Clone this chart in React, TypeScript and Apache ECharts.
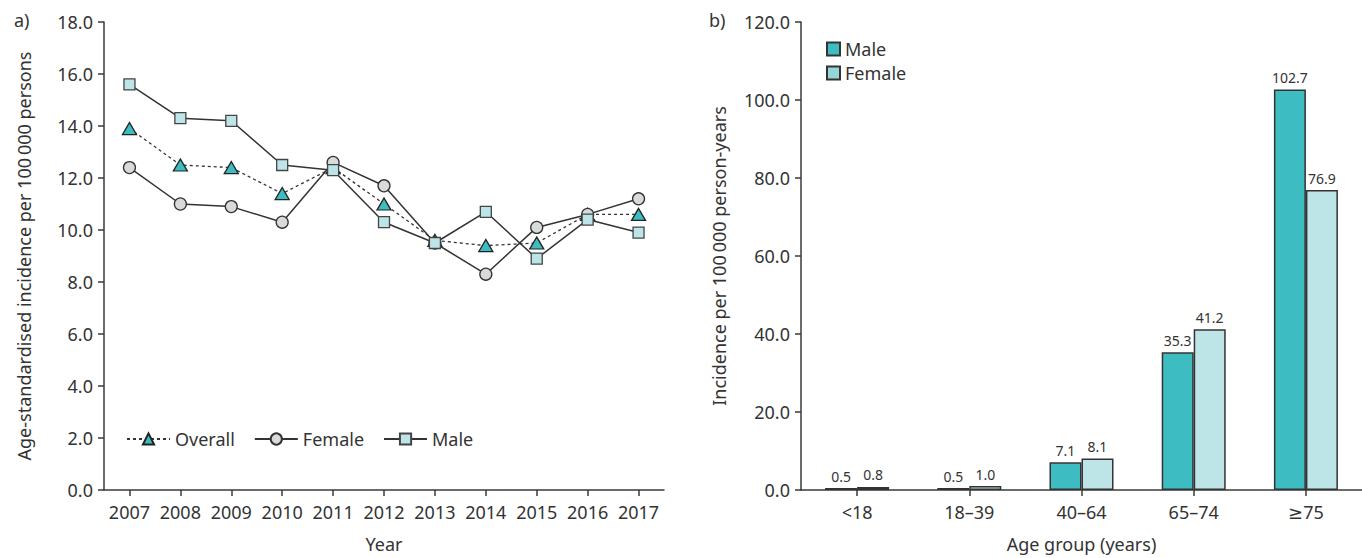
import React, { useEffect, useRef } from "react";
import * as echarts from "echarts";

const years = ["2007", "2008", "2009", "2010", "2011", "2012", "2013", "2014", "2015", "2016", "2017"];
const overallValues = [13.9, 12.5, 12.4, 11.4, 12.4, 11.0, 9.6, 9.4, 9.5, 10.6, 10.6];
const femaleValues = [12.4, 11.0, 10.9, 10.3, 12.6, 11.7, 9.5, 8.3, 10.1, 10.6, 11.2];
const maleValues = [15.6, 14.3, 14.2, 12.5, 12.3, 10.3, 9.5, 10.7, 8.9, 10.4, 9.9];

const ageGroups = ["<18", "18\u201339", "40\u201364", "65\u201374", "\u226575"];
const maleBarValues = [0.5, 0.5, 7.1, 35.3, 102.7];
const femaleBarValues = [0.8, 1.0, 8.1, 41.2, 76.9];

const FONT = "'Noto Sans', 'DejaVu Sans', sans-serif";
const TXT = "#333333";
const AX = "#3a3a3a";
const TEAL = "#3dbcc1";
const LIGHT = "#bde5e7";
const GREY = "#d9dadc";

export default function App() {
  const ref = useRef<HTMLDivElement>(null);
  useEffect(() => {
    if (!ref.current) return;
    const chart = echarts.init(ref.current, null, { renderer: "svg" });
    const axisLine = { show: true, lineStyle: { color: AX, width: 1.5 } };
    const axisTick = { show: true, length: 6, lineStyle: { color: AX, width: 1.5 } };
    const axisLabel = { color: TXT, fontSize: 18, fontFamily: FONT };
    const nameStyle = { color: TXT, fontSize: 18, fontFamily: FONT };
    const option: any = {
      animation: false,
      textStyle: { fontFamily: FONT },
      grid: [
        { left: 104, top: 22, width: 560, height: 473 },
        { left: 801, top: 22, width: 566, height: 473 },
      ],
      xAxis: [
        {
          type: "category",
          gridIndex: 0,
          data: years,
          boundaryGap: true,
          axisLine,
          axisTick: { ...axisTick, alignWithLabel: true },
          axisLabel: { ...axisLabel, margin: 13, interval: 0 },
          name: "Year",
          nameLocation: "middle",
          nameGap: 45,
          nameTextStyle: nameStyle,
        },
        {
          type: "category",
          gridIndex: 1,
          data: ageGroups,
          boundaryGap: true,
          axisLine,
          axisTick: { ...axisTick, alignWithLabel: true },
          axisLabel: { ...axisLabel, margin: 13, interval: 0 },
          name: "Age group (years)",
          nameLocation: "middle",
          nameGap: 45,
          nameTextStyle: nameStyle,
        },
      ],
      yAxis: [
        {
          type: "value",
          gridIndex: 0,
          min: 0,
          max: 18,
          interval: 2,
          splitLine: { show: false },
          axisLine,
          axisTick,
          axisLabel: { ...axisLabel, margin: 11, formatter: (v: number) => v.toFixed(1) },
          name: "Age-standardised incidence per 100\u2009000 persons",
          nameLocation: "middle",
          nameGap: 71,
          nameTextStyle: nameStyle,
        },
        {
          type: "value",
          gridIndex: 1,
          min: 0,
          max: 120,
          interval: 20,
          splitLine: { show: false },
          axisLine,
          axisTick,
          axisLabel: { ...axisLabel, margin: 11, formatter: (v: number) => v.toFixed(1) },
          name: "Incidence per 100\u2009000 person-years",
          nameLocation: "middle",
          nameGap: 73,
          nameTextStyle: nameStyle,
        },
      ],
      legend: [
        {
          data: ["Overall", "Female", "Male"],
          left: 121,
          top: 425,
          orient: "horizontal",
          itemWidth: 43,
          itemHeight: 14,
          itemGap: 19,
          textStyle: { color: TXT, fontSize: 18, fontFamily: FONT },
          selectedMode: false,
        },
        {
          data: [{ name: "barMale" }, { name: "barFemale", itemStyle: { color: "#95d6d9" } }],
          left: 821,
          top: 35,
          orient: "vertical",
          itemWidth: 13,
          itemHeight: 13,
          itemGap: 6,
          icon: "rect",
          formatter: (n: string) => (n === "barMale" ? "Male" : "Female"),
          textStyle: { color: TXT, fontSize: 18, lineHeight: 18, fontFamily: FONT },
          selectedMode: false,
        },
      ],
      graphic: [
        { type: "text", left: 14, top: 11, style: { text: "a)", fontSize: 18, fontFamily: FONT, fill: TXT } },
        { type: "text", left: 709, top: 11, style: { text: "b)", fontSize: 18, fontFamily: FONT, fill: TXT } },
      ],
      series: [
        {
          name: "Overall",
          type: "line",
          xAxisIndex: 0,
          yAxisIndex: 0,
          data: overallValues,
          symbol: "triangle",
          symbolSize: [14, 12],
          lineStyle: { color: "#333", width: 1.3, type: [3, 3] },
          itemStyle: { color: TEAL, borderColor: "#222", borderWidth: 1.3 },
          z: 2,
        },
        {
          name: "Female",
          type: "line",
          xAxisIndex: 0,
          yAxisIndex: 0,
          data: femaleValues,
          symbol: "circle",
          symbolSize: 12,
          lineStyle: { color: "#333", width: 1.5 },
          itemStyle: { color: GREY, borderColor: "#333", borderWidth: 1.3 },
          z: 3,
        },
        {
          name: "Male",
          type: "line",
          xAxisIndex: 0,
          yAxisIndex: 0,
          data: maleValues,
          symbol: "rect",
          symbolSize: 11,
          lineStyle: { color: "#333", width: 1.5 },
          itemStyle: { color: LIGHT, borderColor: "#444", borderWidth: 1.3 },
          z: 4,
        },
        {
          name: "barMale",
          type: "bar",
          xAxisIndex: 1,
          yAxisIndex: 1,
          data: maleBarValues,
          barWidth: 32,
          barGap: "0%",
          itemStyle: { color: TEAL, borderColor: "#333", borderWidth: 1.5 },
          label: { show: true, position: "top", distance: 5, color: TXT, fontSize: 14, fontFamily: FONT, formatter: (p: any) => p.value.toFixed(1) },
        },
        {
          name: "barFemale",
          type: "bar",
          xAxisIndex: 1,
          yAxisIndex: 1,
          data: femaleBarValues,
          barWidth: 32,
          barGap: "0%",
          itemStyle: { color: LIGHT, borderColor: "#333", borderWidth: 1.5 },
          label: { show: true, position: "top", distance: 5, color: TXT, fontSize: 14, fontFamily: FONT, formatter: (p: any) => p.value.toFixed(1) },
        },
      ],
    };
    chart.setOption(option);
    return () => chart.dispose();
  }, []);
  return <div ref={ref} style={{ position: "fixed", left: 0, top: 0, width: 1362, height: 558, background: "#fff" }} />;
}
